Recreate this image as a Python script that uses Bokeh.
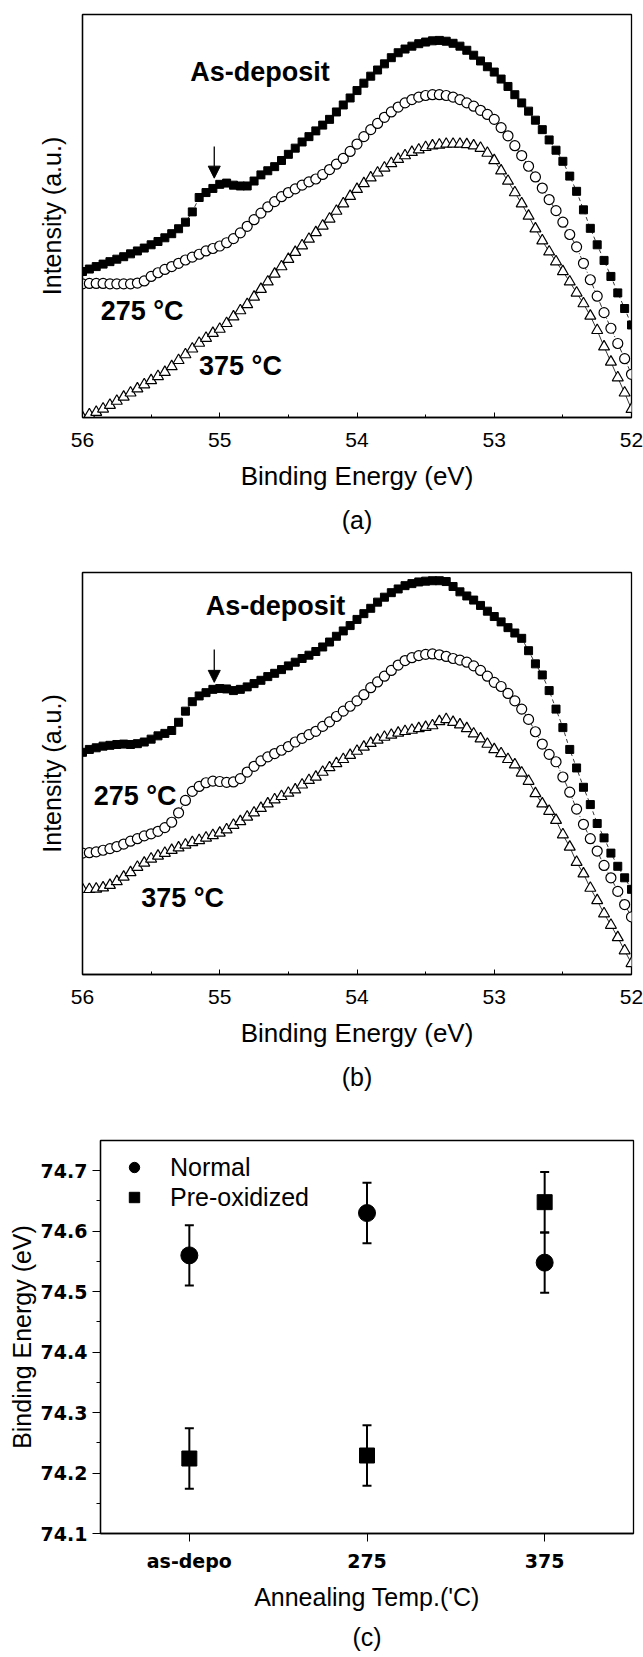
from bokeh.plotting import figure
from bokeh.layouts import column
from bokeh.models import (Range1d, FixedTicker, Label, Arrow, NormalHead, Title, Whisker,
                          TeeHead, ColumnDataSource, Legend, LegendItem, NumeralTickFormatter,
                          FactorRange)
from bokeh.embed import file_html
from bokeh.resources import INLINE

# ---------------- data ----------------
energy = [56.00, 55.95, 55.90, 55.85, 55.80, 55.75, 55.70, 55.65, 55.60, 55.55,
          55.50, 55.45, 55.40, 55.35, 55.30, 55.25, 55.20, 55.15, 55.10, 55.05,
          55.00, 54.95, 54.90, 54.85, 54.80, 54.75, 54.70, 54.65, 54.60, 54.55,
          54.50, 54.45, 54.40, 54.35, 54.30, 54.25, 54.20, 54.15, 54.10, 54.05,
          54.00, 53.95, 53.90, 53.85, 53.80, 53.75, 53.70, 53.65, 53.60, 53.55,
          53.50, 53.45, 53.40, 53.35, 53.30, 53.25, 53.20, 53.15, 53.10, 53.05,
          53.00, 52.95, 52.90, 52.85, 52.80, 52.75, 52.70, 52.65, 52.60, 52.55,
          52.50, 52.45, 52.40, 52.35, 52.30, 52.25, 52.20, 52.15, 52.10, 52.05,
          52.00]

# panel (a), intensity in arbitrary units
a_asdep = [355, 361, 367, 373, 379, 385, 391, 398, 405, 412,
           420, 428, 437, 447, 459, 475, 500, 535, 547, 557,
           567, 570, 565, 563, 563, 575, 590, 600, 610, 625,
           640, 655, 670, 683, 697, 711, 725, 743, 760, 777,
           795, 813, 830, 845, 860, 875, 887, 896, 903, 909,
           913, 916, 917, 915, 910, 903, 893, 881, 867, 853,
           840, 823, 805, 785, 765, 745, 723, 700, 675, 650,
           623, 587, 550, 505, 460, 420, 382, 343, 303, 265,
           225]
a_275 = [325, 326, 326, 326, 325, 325, 325, 325, 327, 332,
         343, 352, 360, 367, 375, 383, 390, 397, 405, 411,
         417, 425, 435, 449, 465, 481, 497, 512, 525, 537,
         547, 556, 565, 573, 580, 591, 603, 616, 630, 647,
         665, 683, 700, 715, 730, 743, 755, 765, 773, 779,
         783, 785, 785, 783, 779, 773, 765, 757, 747, 737,
         725, 705, 685, 661, 637, 611, 585, 558, 530, 503,
         475, 445, 415, 375, 335, 295, 255, 217, 180, 143,
         105]
a_375 = [0, 7, 13, 21, 30, 40, 50, 60, 70, 80,
         90, 100, 110, 124, 139, 153, 167, 181, 193, 205,
         215, 229, 245, 260, 275, 293, 312, 330, 349, 367,
         385, 402, 418, 434, 450, 466, 483, 502, 520, 538,
         555, 569, 583, 595, 607, 618, 628, 637, 645, 651,
         657, 661, 663, 665, 665, 665, 664, 661, 655, 643,
         625, 600, 575, 547, 520, 490, 459, 430, 403, 379,
         355, 330, 303, 277, 247, 212, 172, 135, 97, 60,
         20]

# panel (b)
b_asdep = [540, 547, 551, 555, 557, 559, 560, 559, 561, 565,
           572, 580, 586, 593, 613, 640, 663, 677, 685, 693,
           695, 694, 690, 693, 699, 707, 715, 724, 732, 741,
           750, 759, 768, 776, 785, 796, 808, 822, 835, 848,
           863, 877, 890, 905, 917, 928, 937, 945, 950, 954,
           956, 957, 957, 955, 943, 930, 920, 910, 897, 883,
           870, 857, 843, 830, 817, 787, 755, 728, 690, 645,
           600, 547, 502, 455, 413, 367, 332, 295, 263, 235,
           207]
b_275 = [295, 296, 298, 302, 306, 311, 317, 324, 330, 337,
         342, 348, 357, 370, 393, 423, 445, 457, 466, 470,
         469, 467, 468, 476, 492, 506, 519, 529, 537, 545,
         554, 565, 574, 583, 591, 603, 614, 627, 640, 652,
         665, 680, 697, 711, 725, 739, 752, 763, 770, 775,
         778, 779, 777, 773, 768, 764, 759, 750, 739, 725,
         710, 700, 683, 665, 645, 620, 590, 560, 535, 517,
         480, 443, 402, 365, 330, 300, 265, 235, 202, 170,
         140]
b_375 = [207, 207, 208, 211, 217, 226, 237, 248, 261, 271,
         281, 288, 295, 302, 308, 315, 321, 326, 332, 338,
         344, 352, 363, 372, 383, 393, 404, 415, 425, 433,
         441, 449, 461, 472, 480, 492, 503, 513, 523, 533,
         543, 553, 562, 570, 577, 582, 587, 591, 594, 598,
         601, 605, 615, 620, 613, 607, 598, 585, 573, 560,
         547, 537, 523, 510, 490, 470, 440, 415, 397, 375,
         340, 310, 273, 245, 210, 180, 148, 120, 90, 58,
         27]

# panel (c)
temps = ["as-depo", "275", "375"]
normal_be = [74.56, 74.63, 74.548]
normal_err = [0.05, 0.05, 0.05]
preox_be = [74.224, 74.229, 74.648]
preox_err = [0.05, 0.05, 0.05]

x_ticks = [56, 55, 54, 53, 52]
x_minor = [55.5, 54.5, 53.5, 52.5]
c_yticks = [74.1, 74.2, 74.3, 74.4, 74.5, 74.6, 74.7]
c_yminor = [74.15, 74.25, 74.35, 74.45, 74.55, 74.65]

FONT = "Liberation Sans"
BOLDFONT = "DejaVu Sans"


def spectrum(height, top, bottom, ymax, series, labels, arrow, tag):
    p = figure(width=643, height=height, x_range=Range1d(56, 52), y_range=Range1d(0, ymax),
               output_backend="svg", toolbar_location=None,
               min_border_left=82, min_border_right=12, min_border_top=top,
               min_border_bottom=bottom)
    p.frame_align = False
    p.grid.visible = False
    p.outline_line_color = "black"
    p.outline_line_width = 1.3
    p.background_fill_color = "white"
    p.border_fill_color = "white"

    xa = p.xaxis[0]
    xa.ticker = FixedTicker(ticks=x_ticks, minor_ticks=x_minor)
    xa.major_tick_in = 5
    xa.major_tick_out = 0
    xa.minor_tick_in = 3
    xa.minor_tick_out = 0
    xa.axis_line_width = 1.3
    xa.major_label_text_font = FONT
    xa.major_label_text_font_size = "21px"
    xa.major_label_text_color = "black"
    xa.major_label_standoff = 15
    xa.axis_label = "Binding Energy (eV)"
    xa.axis_label_text_font = FONT
    xa.axis_label_text_font_size = "26px"
    xa.axis_label_text_font_style = "normal"
    xa.axis_label_text_color = "black"
    xa.axis_label_standoff = 11

    ya = p.yaxis[0]
    ya.ticker = FixedTicker(ticks=[])
    ya.major_label_text_font_size = "0px"
    ya.major_tick_line_color = None
    ya.minor_tick_line_color = None
    ya.axis_line_width = 1.3
    ya.axis_label = "Intensity (a.u.)"
    ya.axis_label_text_font = FONT
    ya.axis_label_text_font_size = "25px"
    ya.axis_label_text_font_style = "normal"
    ya.axis_label_text_color = "black"
    ya.axis_label_standoff = 17

    asdep, s275, s375 = series
    p.line(energy, asdep, line_color="black", line_width=0.8, line_dash="4 3")
    p.line(energy, s275, line_color="black", line_width=0.8, line_dash="5 2 1 2")
    p.line(energy, s375, line_color="black", line_width=0.8)
    p.scatter(energy, asdep, marker="square", size=8, fill_color="black", line_color="black")
    p.scatter(energy, s275, marker="circle", size=10, fill_color="white", line_color="black",
              line_width=1.2)
    p.scatter(energy, s375, marker="triangle", size=11, fill_color="white", line_color="black",
              line_width=1.2)

    for (tx, ty, txt) in labels:
        p.add_layout(Label(x=tx, y=ty, text=txt, text_font=FONT, text_font_size="27px",
                           text_font_style="bold", text_align="center",
                           text_baseline="middle", text_color="black"))
    ax, ay0, ay1 = arrow
    p.add_layout(Arrow(end=NormalHead(size=12, fill_color="black", line_color="black"),
                       x_start=ax, y_start=ay0, x_end=ax, y_end=ay1,
                       line_color="black", line_width=1.3))
    p.add_layout(Title(text=tag, align="center", text_font=FONT, text_font_size="25px",
                       text_font_style="normal", text_color="black",
                       standoff=20), "below")
    return p


pa = spectrum(545, 14, 128, 980, (a_asdep, a_275, a_375),
              [(54.707, 839, "As-deposit"), (55.566, 260, "275 °C"), (54.849, 125, "375 °C")],
              (55.04, 659, 582), "(a)")
pb = spectrum(555, 27, 125, 977, (b_asdep, b_275, b_375),
              [(54.594, 895, "As-deposit"), (55.617, 435, "275 °C"), (55.27, 185, "375 °C")],
              (55.04, 790, 710), "(b)")

# ---------------- panel (c) ----------------
pc = figure(width=643, height=557, x_range=FactorRange(*temps, range_padding=0),
            y_range=Range1d(74.1, 74.75), output_backend="svg", toolbar_location=None,
            min_border_left=100, min_border_right=10, min_border_top=40,
            min_border_bottom=118)
pc.frame_align = False
pc.x_range.factor_padding = 0
pc.grid.visible = False
pc.outline_line_color = "black"
pc.outline_line_width = 1.3

src_n = ColumnDataSource(dict(t=temps, v=normal_be,
                              lo=[v - e for v, e in zip(normal_be, normal_err)],
                              hi=[v + e for v, e in zip(normal_be, normal_err)]))
src_p = ColumnDataSource(dict(t=temps, v=preox_be,
                              lo=[v - e for v, e in zip(preox_be, preox_err)],
                              hi=[v + e for v, e in zip(preox_be, preox_err)]))
for src in (src_n, src_p):
    pc.add_layout(Whisker(base="t", lower="lo", upper="hi", source=src, line_width=2,
                          line_color="black",
                          lower_head=TeeHead(size=9, line_width=2, line_color="black"),
                          upper_head=TeeHead(size=9, line_width=2, line_color="black")))
rn = pc.scatter("t", "v", source=src_n, marker="circle", size=17, color="black")
rp = pc.scatter("t", "v", source=src_p, marker="square", size=15, color="black")

xa = pc.xaxis[0]
xa.major_tick_out = 8
xa.major_tick_in = 0
xa.axis_line_width = 1.3
xa.major_label_text_font = BOLDFONT
xa.major_label_text_font_style = "bold"
xa.major_label_text_font_size = "19px"
xa.major_label_text_color = "black"
xa.major_label_standoff = 8
xa.axis_label = "Annealing Temp.('C)"
xa.axis_label_text_font = FONT
xa.axis_label_text_font_size = "25px"
xa.axis_label_text_font_style = "normal"
xa.axis_label_text_color = "black"
xa.axis_label_standoff = 8

ya = pc.yaxis[0]
ya.ticker = FixedTicker(ticks=c_yticks, minor_ticks=c_yminor)
ya.formatter = NumeralTickFormatter(format="0.0")
ya.major_tick_out = 8
ya.major_tick_in = 0
ya.minor_tick_out = 4
ya.minor_tick_in = 0
ya.axis_line_width = 1.3
ya.major_label_text_font = BOLDFONT
ya.major_label_text_font_style = "bold"
ya.major_label_text_font_size = "19px"
ya.major_label_text_color = "black"
ya.major_label_standoff = 5
ya.axis_label = "Binding Energy (eV)"
ya.axis_label_text_font = FONT
ya.axis_label_text_font_size = "25px"
ya.axis_label_text_font_style = "normal"
ya.axis_label_text_color = "black"
ya.axis_label_standoff = 2

legend = Legend(items=[LegendItem(label="Normal", renderers=[rn]),
                       LegendItem(label="Pre-oxidized", renderers=[rp])],
                location=(21, 321), padding=0, margin=0, spacing=0,
                glyph_width=26, glyph_height=30, label_height=30, label_standoff=23,
                label_text_font=FONT, label_text_font_size="25px",
                label_text_color="black",
                background_fill_alpha=0, border_line_color=None)
pc.add_layout(legend)
pc.add_layout(Title(text="(c)", align="center", text_font=FONT, text_font_size="25px",
                    text_font_style="normal", text_color="black", standoff=14), "below")

layout = column(pa, pb, pc, spacing=0)
open("out.html", "w").write(file_html(layout, INLINE))
